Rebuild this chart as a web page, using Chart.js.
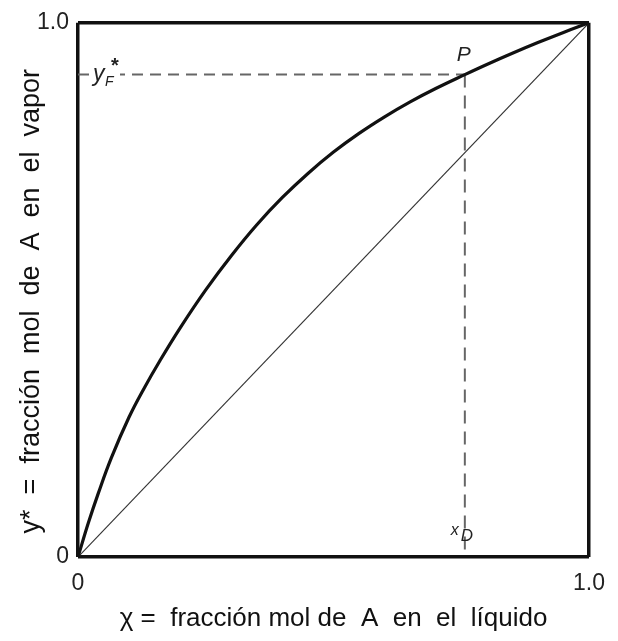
<!DOCTYPE html>
<html lang="es">
<head>
    <meta charset="UTF-8">
    <title>Curva de equilibrio</title>
    <script src="https://cdn.jsdelivr.net/npm/chart.js"></script>
    <style>
        body { margin: 0; background: #fff; }
        .chart-container { width: 618px; height: 641px; }
    </style>
</head>
<body>
    <div class="chart-container">
        <canvas id="eqChart" width="618" height="641"></canvas>
    </div>

    <script>
        // curva de equilibrio
        const xLiquid = [0, 0.02, 0.04, 0.065, 0.1, 0.13, 0.16, 0.2, 0.25, 0.3, 0.35, 0.4, 0.45, 0.5, 0.55, 0.6, 0.65, 0.7, 0.757, 0.8, 0.85, 0.9, 0.95, 1];
        const yVapor  = [0, 0.063, 0.12, 0.185, 0.262, 0.317, 0.367, 0.429, 0.5, 0.564, 0.622, 0.673, 0.718, 0.758, 0.793, 0.824, 0.852, 0.877, 0.903, 0.922, 0.943, 0.963, 0.982, 1];

        const diagX = [0, 1];
        const diagY = [0, 1];

        const xD = 0.757;
        const yF = 0.903;

        const tickValues = [0, 1];
        const tickLabelsX = ['0', '1.0'];
        const tickLabelsY = ['0', '1.0'];

        const toPoints = (xs, ys) => xs.map((x, i) => ({ x: x, y: ys[i] }));

        const fontFamily = '"Liberation Sans", Arial, sans-serif';

        // textos dentro del grafico (y_F*, P, x_D)
        const labelsPlugin = {
            id: 'labels',
            afterDatasetsDraw(chart) {
                const ctx = chart.ctx;
                const xs = chart.scales.x, ys = chart.scales.y;
                const px = xs.getPixelForValue(xD), py = ys.getPixelForValue(yF);
                const left = xs.getPixelForValue(0);
                const bottom = ys.getPixelForValue(0);
                ctx.save();
                ctx.fillStyle = '#fff';
                ctx.fillRect(left + 12, py - 14, 30, 26);
                ctx.fillStyle = '#222';
                ctx.textBaseline = 'alphabetic';
                ctx.font = 'italic 23px ' + fontFamily;
                ctx.fillText('y', left + 15, py + 6);
                ctx.font = 'italic 14px ' + fontFamily;
                ctx.fillText('F', left + 27, py + 11);
                ctx.font = 'bold 20px ' + fontFamily;
                ctx.fillText('*', left + 33, py - 3);

                ctx.font = 'italic 21px ' + fontFamily;
                ctx.fillText('P', px - 8, py - 14);

                ctx.font = 'italic 16px ' + fontFamily;
                ctx.fillText('x', px - 14, bottom - 22);
                ctx.font = 'italic 17px ' + fontFamily;
                ctx.fillText('D', px - 4, bottom - 16);
                ctx.restore();
            }
        };

        const ctx = document.getElementById('eqChart').getContext('2d');
        const chart = new Chart(ctx, {
            type: 'scatter',
            data: {
                datasets: [{
                    label: 'equilibrio',
                    data: toPoints(xLiquid, yVapor),
                    showLine: true,
                    borderColor: '#111',
                    borderWidth: 3.2,
                    pointRadius: 0,
                    tension: 0.4
                }, {
                    label: 'diagonal',
                    data: toPoints(diagX, diagY),
                    showLine: true,
                    borderColor: '#333',
                    borderWidth: 1.2,
                    pointRadius: 0
                }, {
                    label: 'yF',
                    data: [{ x: 0, y: yF }, { x: xD, y: yF }],
                    showLine: true,
                    borderColor: '#666',
                    borderWidth: 2,
                    borderDash: [11, 7],
                    pointRadius: 0
                }, {
                    label: 'xD',
                    data: [{ x: xD, y: yF }, { x: xD, y: 0 }],
                    showLine: true,
                    borderColor: '#666',
                    borderWidth: 2,
                    borderDash: [13, 8],
                    pointRadius: 0
                }]
            },
            options: {
                responsive: false,
                animation: false,
                layout: { padding: { top: 20, right: 25, left: 0, bottom: 0 } },
                plugins: {
                    legend: { display: false },
                    tooltip: { enabled: false }
                },
                scales: {
                    x: {
                        type: 'linear',
                        min: 0,
                        max: 1,
                        afterBuildTicks: (scale) => { scale.ticks = tickValues.map(v => ({ value: v })); },
                        afterFit: (scale) => { scale.height = 84; },
                        grid: { color: '#111', lineWidth: 3.5, drawTicks: false },
                        border: { display: false },
                        ticks: {
                            padding: 13,
                            color: '#222',
                            font: { family: fontFamily, size: 23 },
                            callback: (v, i) => tickLabelsX[i]
                        },
                        title: {
                            display: true,
                            text: 'χ =  fracción mol de  A  en  el  líquido',
                            color: '#111',
                            font: { family: fontFamily, size: 26 },
                            padding: { top: 0, bottom: 7 }
                        }
                    },
                    y: {
                        type: 'linear',
                        min: 0,
                        max: 1,
                        afterBuildTicks: (scale) => { scale.ticks = tickValues.map(v => ({ value: v })); },
                        afterFit: (scale) => { scale.width = 78; },
                        grid: { color: '#111', lineWidth: 3.5, drawTicks: false },
                        border: { display: false },
                        ticks: {
                            padding: 9,
                            color: '#222',
                            font: { family: fontFamily, size: 23 },
                            callback: (v, i) => tickLabelsY[i]
                        },
                        title: {
                            display: true,
                            text: 'y*  =  fracción  mol  de  A  en  el  vapor   ',
                            color: '#111',
                            font: { family: fontFamily, size: 27 },
                            padding: { top: 15, bottom: 0 }
                        }
                    }
                }
            },
            plugins: [labelsPlugin]
        });
    </script>
</body>
</html>
